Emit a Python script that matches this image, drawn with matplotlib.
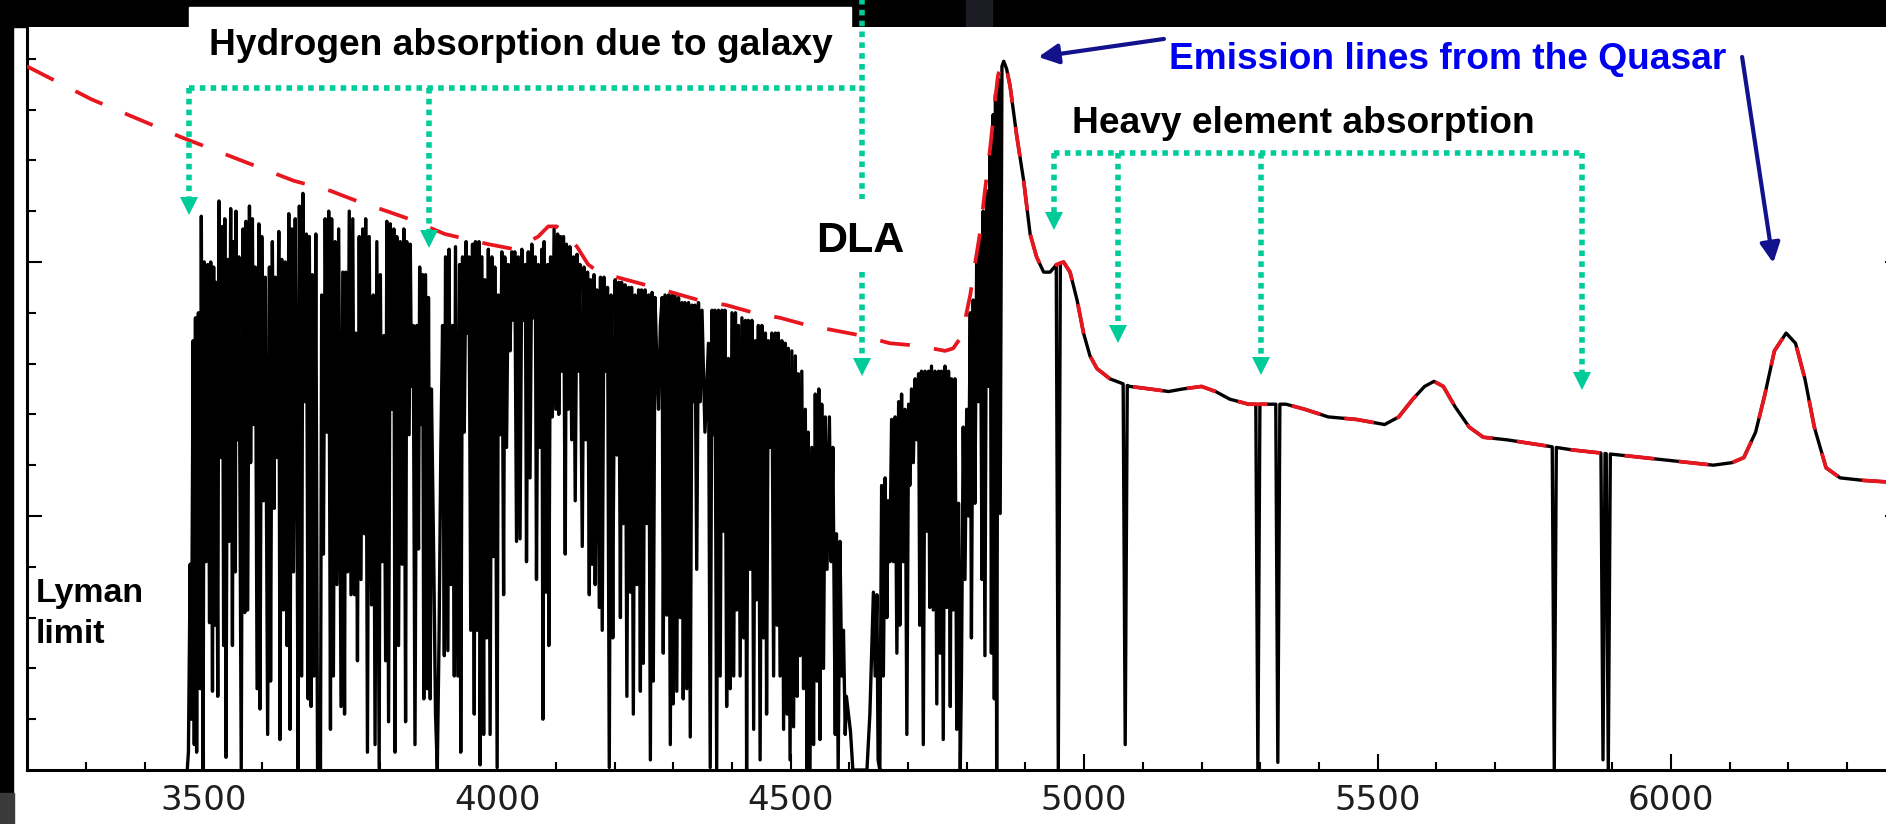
import numpy as np
import matplotlib
matplotlib.use("Agg")
import matplotlib.pyplot as plt
from matplotlib.patches import Rectangle
from matplotlib.transforms import ScaledTranslation

# quasar continuum (red dashed), wavelength in Angstrom
cont_wl = [3199, 3309, 3463, 3653, 3716, 3761, 3812, 3849, 3911, 3985, 4030, 4070,
           4087, 4101, 4116, 4136, 4155, 4167, 4204, 4252, 4298, 4343, 4391, 4437,
           4482, 4530, 4576, 4621, 4669, 4718, 4763, 4777, 4789, 4797, 4806, 4814,
           4823, 4831, 4840, 4848, 4853, 4858, 4863, 4868, 4874, 4885, 4897, 4908,
           4919, 4931, 4942, 4953, 4965, 4976, 4988, 4999, 5010, 5022, 5044, 5078,
           5112, 5144, 5168, 5200, 5224, 5248, 5280, 5312, 5344, 5376, 5416, 5464,
           5512, 5536, 5560, 5580, 5596, 5612, 5632, 5656, 5680, 5720, 5776, 5832,
           5912, 5992, 6072, 6104, 6124, 6144, 6160, 6176, 6196, 6212, 6228, 6244,
           6264, 6288, 6328, 6395]
cont_flux = [2.77, 2.64, 2.49, 2.32, 2.28, 2.24, 2.20, 2.17, 2.11, 2.07, 2.05, 2.10,
             2.14, 2.14, 2.11, 2.06, 1.99, 1.97, 1.94, 1.91, 1.88, 1.85, 1.83, 1.80,
             1.78, 1.75, 1.73, 1.71, 1.68, 1.67, 1.65, 1.66, 1.70, 1.77, 1.87, 1.99,
             2.12, 2.28, 2.45, 2.63, 2.73, 2.78, 2.79, 2.76, 2.69, 2.50, 2.32, 2.11,
             2.02, 1.96, 1.96, 1.99, 2.00, 1.96, 1.85, 1.72, 1.63, 1.58, 1.54, 1.51,
             1.50, 1.49, 1.50, 1.51, 1.49, 1.46, 1.44, 1.44, 1.44, 1.42, 1.39, 1.38,
             1.36, 1.39, 1.46, 1.51, 1.53, 1.51, 1.43, 1.35, 1.31, 1.30, 1.28, 1.26,
             1.24, 1.22, 1.20, 1.21, 1.23, 1.33, 1.48, 1.65, 1.72, 1.68, 1.54, 1.35,
             1.19, 1.15, 1.14, 1.13]

forest_a = [(3472, 0.00), (3474, 0.07), (3477, 0.81), (3479, 0.20), (3482, 1.69),
            (3484, 0.10), (3486, 1.78), (3488, 0.07), (3491, 1.80), (3494, 0.32), (3496, 2.18),
            (3499, 0.00), (3501, 2.00), (3504, 0.82), (3507, 1.99), (3510, 0.58), (3512, 2.00),
            (3515, 0.31), (3517, 1.98), (3519, 0.57), (3521, 1.92), (3524, 0.29), (3526, 2.24),
            (3529, 1.23), (3532, 2.14), (3534, 0.49), (3536, 2.17), (3538, 0.05), (3541, 2.01),
            (3543, 0.90), (3546, 2.21), (3549, 0.49), (3551, 2.08), (3554, 0.78), (3555, 2.20),
            (3558, 1.30), (3560, 2.02), (3564, 0.00), (3567, 2.13), (3570, 0.62), (3572, 2.16),
            (3575, 0.63), (3578, 2.22), (3580, 1.21), (3583, 2.17), (3585, 1.36), (3588, 1.98),
            (3591, 0.32), (3594, 2.15), (3596, 0.24), (3599, 2.10), (3602, 1.06), (3605, 1.94),
            (3609, 0.14), (3612, 1.98), (3614, 0.35), (3617, 2.08), (3620, 1.03), (3622, 1.94),
            (3625, 1.23), (3628, 2.12), (3630, 0.12), (3633, 2.01), (3636, 0.63), (3639, 2.00),
            (3642, 0.49), (3645, 2.19), (3647, 0.16), (3650, 2.13), (3653, 0.78), (3656, 2.17),
            (3659, 1.08), (3661, 0.00), (3663, 2.22), (3667, 0.37), (3669, 2.27), (3672, 1.45),
            (3675, 2.11), (3678, 0.28), (3680, 2.10), (3683, 0.25), (3685, 1.95), (3688, 0.37),
            (3691, 2.11), (3694, 0.00), (3699, 0.00), (3701, 1.87), (3704, 0.85), (3707, 2.17),
            (3710, 1.33), (3713, 2.20), (3716, 0.16), (3718, 2.17), (3721, 0.37), (3724, 2.08),
            (3727, 0.73), (3730, 2.13), (3734, 0.25), (3737, 1.96), (3740, 0.22), (3742, 1.96),
            (3745, 0.78), (3748, 2.20), (3751, 0.69), (3754, 2.17), (3757, 0.69), (3759, 1.72),
            (3762, 0.43), (3765, 2.10), (3768, 0.75), (3771, 2.13), (3774, 0.93), (3776, 2.17),
            (3779, 0.07), (3782, 2.10), (3786, 0.65), (3789, 1.87), (3792, 0.10), (3795, 2.08),
            (3799, 0.00), (3801, 1.95), (3804, 0.82), (3807, 1.71), (3810, 0.43), (3812, 2.16),
            (3815, 0.19), (3818, 2.15), (3821, 1.42), (3824, 2.13), (3826, 0.07), (3829, 2.10),
            (3832, 0.49), (3835, 2.08)]
forest_b = [(3838, 0.81), (3841, 2.13), (3844, 0.19), (3846, 2.08), (3850, 1.32), (3852, 2.07),
            (3854, 1.51), (3857, 1.75), (3860, 0.10), (3863, 1.75), (3866, 0.87), (3868, 1.98),
            (3870, 1.36), (3873, 1.95), (3875, 0.28), (3878, 1.95), (3881, 0.32), (3883, 1.86),
            (3886, 0.28), (3888, 1.50), (3892, 0.82), (3895, 0.22), (3898, 0.00), (3901, 0.52),
            (3904, 1.26), (3907, 1.75), (3910, 0.45), (3912, 2.02), (3916, 0.47), (3918, 2.05),
            (3921, 0.73), (3924, 1.75), (3927, 0.37), (3929, 2.06), (3933, 0.37), (3936, 1.99),
            (3938, 0.07), (3941, 2.02), (3944, 1.33), (3947, 2.08), (3950, 1.72), (3952, 2.02),
            (3955, 0.55), (3958, 2.07), (3961, 0.22), (3963, 2.08), (3966, 0.55), (3969, 2.08),
            (3971, 0.02), (3974, 2.02), (3977, 0.14), (3979, 1.93), (3982, 0.52), (3985, 2.05),
            (3988, 0.14), (3991, 2.02), (3994, 0.84), (3996, 1.98), (4000, 0.01), (4002, 1.87),
            (4005, 1.32), (4008, 2.04), (4011, 0.69), (4013, 2.02), (4016, 1.27), (4019, 1.99),
            (4022, 1.65), (4025, 2.04), (4028, 1.77), (4030, 2.04), (4033, 0.90), (4036, 2.02),
            (4039, 0.91), (4042, 2.05), (4045, 1.77), (4048, 1.99), (4050, 0.82), (4053, 2.04),
            (4056, 1.15), (4059, 2.07), (4062, 1.78), (4065, 2.02), (4067, 0.75), (4070, 1.99),
            (4073, 1.27), (4076, 2.05), (4078, 0.20), (4080, 2.08), (4083, 0.70), (4086, 1.99),
            (4088, 0.49), (4091, 2.02), (4094, 1.39), (4097, 2.13), (4100, 1.42), (4103, 2.11),
            (4105, 1.40), (4108, 2.10), (4110, 1.57), (4113, 2.10), (4116, 0.85), (4118, 2.07),
            (4121, 1.42), (4124, 2.06), (4127, 1.30), (4130, 2.02), (4133, 1.06), (4136, 2.03),
            (4138, 1.57), (4141, 1.99), (4145, 0.88), (4148, 1.98), (4151, 1.30), (4154, 1.96),
            (4157, 0.69), (4159, 1.93), (4162, 0.81), (4165, 1.95), (4167, 0.73), (4170, 1.89),
            (4174, 0.64), (4176, 1.94), (4179, 0.55), (4182, 1.94), (4185, 1.57), (4188, 1.90),
            (4191, 0.01), (4194, 1.87), (4197, 0.52)]
forest_c = [(4198, 1.00), (4201, 1.93), (4204, 1.24), (4207, 1.92), (4210, 0.60), (4212, 1.92),
            (4215, 0.97), (4218, 1.91), (4221, 0.29), (4224, 1.90), (4227, 0.70), (4229, 1.90),
            (4232, 0.22), (4235, 1.87), (4238, 0.73), (4241, 1.89), (4244, 0.31), (4246, 1.89),
            (4249, 0.42), (4252, 1.89), (4255, 0.97), (4258, 1.87), (4261, 0.04), (4264, 1.88),
            (4266, 0.35), (4269, 1.86), (4272, 1.60), (4275, 1.42), (4278, 1.75), (4281, 1.86),
            (4283, 0.46), (4286, 1.87), (4289, 0.61), (4292, 1.87), (4295, 0.10), (4298, 1.87),
            (4300, 0.26), (4303, 1.87), (4306, 0.31), (4309, 1.86), (4312, 0.60), (4315, 1.84),
            (4317, 0.28), (4320, 1.84), (4323, 0.32), (4326, 1.84), (4329, 0.13), (4332, 1.83),
            (4335, 1.45), (4337, 1.83), (4340, 0.79), (4343, 1.84), (4346, 1.45), (4349, 1.81),
            (4354, 1.33), (4360, 1.68), (4363, 0.01), (4366, 1.81), (4369, 1.32), (4371, 1.81),
            (4374, 0.00), (4377, 1.81), (4380, 0.37), (4383, 1.81), (4386, 0.94), (4388, 1.81),
            (4391, 0.25), (4394, 1.62), (4397, 0.32), (4400, 1.80), (4403, 0.37), (4406, 1.80),
            (4408, 0.63), (4411, 1.75), (4414, 0.37), (4417, 1.78), (4420, 0.52), (4423, 1.77),
            (4425, 0.00), (4428, 1.77), (4431, 0.79), (4434, 1.77), (4437, 0.16), (4440, 1.69),
            (4442, 0.67), (4445, 1.75), (4448, 0.04), (4451, 1.75), (4454, 0.52), (4457, 1.72),
            (4459, 0.22), (4462, 1.69), (4465, 1.27), (4468, 1.72), (4471, 0.37), (4474, 1.72),
            (4477, 0.57), (4479, 1.72), (4482, 0.37), (4485, 1.69), (4488, 0.16), (4491, 1.68),
            (4494, 0.22), (4496, 1.66), (4499, 0.04), (4502, 1.65), (4505, 0.17), (4508, 1.63),
            (4511, 0.29), (4513, 1.56), (4516, 0.45), (4519, 1.57), (4522, 0.32), (4525, 1.42),
            (4528, 0.00), (4530, 1.33), (4533, 0.00), (4536, 1.27), (4539, 0.10), (4542, 1.48),
            (4545, 0.35), (4548, 1.50), (4550, 0.12), (4553, 1.44), (4556, 0.40), (4559, 1.39),
            (4562, 0.79)]
forest_d = [(4566, 1.39), (4569, 0.82), (4572, 1.27), (4576, 0.14), (4578, 0.93), (4581, 0.00),
            (4584, 0.90), (4587, 0.37), (4590, 0.55), (4593, 0.14), (4595, 0.29), (4602, 0.15),
            (4606, 0.00), (4630, 0.00), (4635, 0.22), (4641, 0.70), (4644, 0.37), (4647, 0.69),
            (4649, 0.04), (4652, 0.00), (4655, 1.12), (4658, 0.37), (4661, 1.15), (4664, 0.60),
            (4666, 1.06), (4669, 0.82), (4672, 1.38), (4675, 0.82), (4678, 1.39), (4681, 0.46),
            (4684, 1.45), (4686, 0.57), (4689, 1.48), (4692, 0.82), (4695, 1.42), (4698, 0.14),
            (4701, 1.44), (4703, 1.12), (4706, 1.50), (4709, 1.21), (4712, 1.54), (4715, 1.30),
            (4718, 1.56), (4720, 0.57), (4723, 1.57), (4726, 0.10), (4729, 1.57), (4732, 0.94),
            (4735, 1.57), (4737, 0.64), (4740, 1.59), (4743, 0.63), (4746, 1.57), (4749, 0.26),
            (4752, 1.57), (4755, 0.46), (4757, 1.57), (4760, 0.12), (4763, 1.59), (4766, 0.64),
            (4769, 1.57), (4772, 0.25), (4774, 1.54), (4777, 0.63), (4780, 1.54), (4783, 0.16),
            (4786, 1.05), (4789, 0.00), (4791, 0.37), (4794, 1.35), (4797, 0.75), (4800, 1.42),
            (4803, 1.00), (4806, 1.80), (4808, 0.52), (4811, 1.85), (4814, 1.05), (4817, 2.02),
            (4820, 1.45), (4823, 2.10), (4826, 0.75), (4828, 2.20), (4831, 0.45), (4834, 2.28),
            (4837, 1.51), (4840, 2.44), (4842, 0.46), (4845, 2.58), (4847, 0.28), (4849, 2.66),
            (4851, 0.00), (4854, 2.72), (4857, 1.01), (4860, 2.77)]

# narrow heavy-element absorption lines redward of Lyman alpha
metal_wl = [4956, 5070, 5296, 5330, 5801, 5884, 5893]
metal_floor = [0.00, 0.10, 0.00, 0.03, 0.00, 0.04, 0.00]

x_ticks = [3500, 4000, 4500, 5000, 5500, 6000]

# annotation anchors (wavelength, flux)
hyd_arrow_wl = [3475, 3884, 4622]
hyd_arrow_tip = [2.185, 2.055, 1.551]
hyd_bar = 2.685
heavy_arrow_wl = [4949, 5057, 5302, 5848]
heavy_arrow_tip = [2.126, 1.681, 1.555, 1.496]
heavy_bar = 2.429

GREEN = "#00cc99"
NAVY = "#12128c"
RED = "#e8161e"

# build the black spectrum: forest, then continuum with narrow dips
forest = np.array(forest_a + forest_b + forest_c + forest_d)
half_w = 3.5
red_side = [(w, f) for w, f in zip(cont_wl, cont_flux)
            if w > forest[-1, 0] and min(abs(w - c) for c in metal_wl) > half_w]
for c, fl in zip(metal_wl, metal_floor):
    red_side.append((c - half_w, np.interp(c - half_w, cont_wl, cont_flux)))
    red_side.append((c, fl))
    red_side.append((c + half_w, np.interp(c + half_w, cont_wl, cont_flux)))
red_side = np.array(sorted(red_side))
spec = np.vstack([forest, red_side])

W, H = 1886, 824
fig = plt.figure(figsize=(W / 100, H / 100), dpi=100, facecolor="white")
ax = fig.add_axes([27 / W, (H - 770) / H, (1900 - 27) / W, (770 - 27) / H], zorder=2)
ax.set_xlim(3199, 6390)
ax.set_ylim(0, 2.925)

ax.plot(spec[:, 0], spec[:, 1], color="black", lw=2.4, zorder=3)
ax.plot(cont_wl, cont_flux, color=RED, lw=2.7, dashes=(8, 6.5), zorder=4)

# green dotted brackets with triangular heads
dot = dict(color=GREEN, lw=4, linestyle=(0, (1.0, 0.95)), dash_capstyle="butt",
           clip_on=False, zorder=5)
head_trans = ax.transData + ScaledTranslation(0, 0.09, fig.dpi_scale_trans)
head_h = 18 / 254.0


def head(x, y):
    ax.plot([x], [y], marker="v", ms=13, color=GREEN, mec=GREEN, mew=0,
            transform=head_trans, clip_on=False, zorder=6)


ax.plot([hyd_arrow_wl[0], hyd_arrow_wl[-1]], [hyd_bar, hyd_bar], **dot)
ax.plot([hyd_arrow_wl[0]] * 2, [hyd_bar, hyd_arrow_tip[0] + head_h], **dot)
ax.plot([hyd_arrow_wl[1]] * 2, [hyd_bar, hyd_arrow_tip[1] + head_h], **dot)
ax.plot([hyd_arrow_wl[2]] * 2, [3.04, 2.248], **dot)
ax.plot([hyd_arrow_wl[2]] * 2, [1.961, hyd_arrow_tip[2] + head_h], **dot)
for x, y in zip(hyd_arrow_wl, hyd_arrow_tip):
    head(x, y)

ax.plot([heavy_arrow_wl[0], heavy_arrow_wl[-1]], [heavy_bar, heavy_bar], **dot)
for x, y in zip(heavy_arrow_wl, heavy_arrow_tip):
    ax.plot([x, x], [heavy_bar, y + head_h], **dot)
    head(x, y)

# blue arrows to the emission lines
arr = dict(arrowstyle="-|>,head_length=0.6,head_width=0.3", color=NAVY, lw=3,
           mutation_scale=20, shrinkA=0, shrinkB=0)
ax.annotate("", xy=(4922, 2.807), xytext=(5136, 2.878), arrowprops=arr, zorder=6)
ax.annotate("", xy=(6174, 1.996), xytext=(6121, 2.807), arrowprops=arr, zorder=6)

lab = dict(family="Liberation Sans", weight="bold", va="baseline", zorder=7)
ax.text(4041, 2.815, "Hydrogen absorption due to galaxy", ha="center", fontsize=26.7,
        color="black", **lab)
ax.text(5374, 2.508, "Heavy element absorption", ha="center", fontsize=26.7,
        color="black", **lab)
ax.text(5619, 2.760, "Emission lines from the Quasar", ha="center", fontsize=26.7,
        color="#0000f0", **lab)
ax.text(4619, 2.039, "DLA", ha="center", fontsize=31, color="black", **lab)
ax.text(3214, 0.660, "Lyman", ha="left", fontsize=24.5, color="black", **lab)
ax.text(3214, 0.500, "limit", ha="left", fontsize=24.5, color="black", **lab)

# axes styling
for side in ["left", "bottom", "right"]:
    ax.spines[side].set_linewidth(2.2)
ax.spines["top"].set_visible(False)
ax.set_xticks(x_ticks)
ax.set_xticks(np.arange(3300, 6400, 100), minor=True)
ax.set_yticks([1, 2])
ax.set_yticks(np.arange(0.2, 2.9, 0.2), minor=True)
ax.tick_params(axis="x", which="both", direction="in", width=1.5, top=False, pad=10,
               labelsize=24.5, labelcolor="#1e1e1e")
ax.tick_params(axis="x", which="major", length=11.5)
ax.tick_params(axis="x", which="minor", length=5.8)
ax.tick_params(axis="y", which="both", direction="in", width=1.5, right=True,
               labelleft=False)
ax.tick_params(axis="y", which="major", length=11)
ax.tick_params(axis="y", which="minor", length=6.5)
for t in ax.get_xticklabels():
    t.set_family("DejaVu Sans")

# dark slide background peeking around the screenshot
fig.patches.append(Rectangle((0, (H - 27) / H), 1, 27 / H, transform=fig.transFigure,
                             color="black", zorder=1))
fig.patches.append(Rectangle((0, 31 / H), 13 / W, (H - 31) / H, transform=fig.transFigure,
                             color="black", zorder=1))
fig.patches.append(Rectangle((0, 0), 14 / W, 31 / H, transform=fig.transFigure,
                             color="#3a3a3a", zorder=1))
fig.patches.append(Rectangle((966 / W, (H - 27) / H), 26 / W, 27 / H,
                             transform=fig.transFigure, color="#1c1c24", zorder=1.2))
fig.patches.append(Rectangle((189 / W, (H - 27) / H), 662 / W, 20 / H,
                             transform=fig.transFigure, color="white", zorder=1.5))

fig.savefig("out.png", dpi=100, facecolor="white")
